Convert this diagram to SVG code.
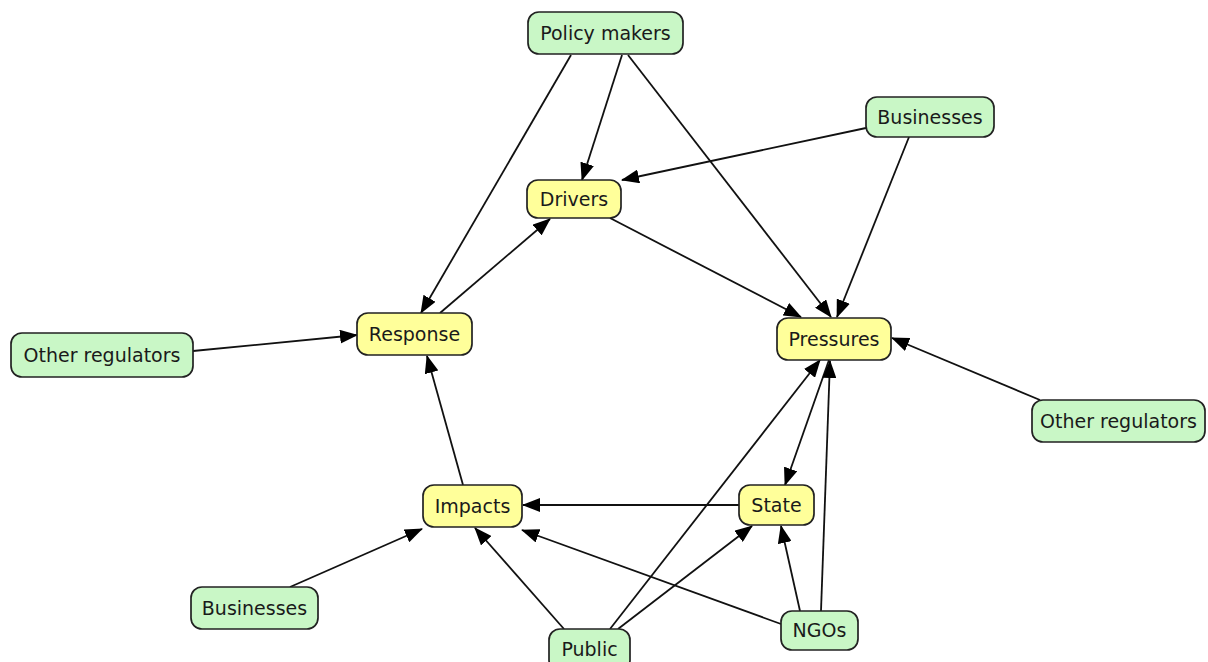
<svg xmlns="http://www.w3.org/2000/svg" width="1208" height="662" viewBox="0 0 1208 662">
  <style>
    .bg { fill: #ffffff; }
    .actor rect { fill: #c9f7c6; stroke: #222; stroke-width: 1.7; }
    .dpsir rect { fill: #ffff9a; stroke: #222; stroke-width: 1.7; }
    text { font-family: "DejaVu Sans", Verdana, sans-serif; font-size: 19px; fill: #1a1a1a; text-anchor: middle; }
    .edges line { stroke: #111; stroke-width: 1.8; marker-end: url(#arrow); }
  </style>
  <defs>
    <marker id="arrow" markerUnits="userSpaceOnUse" markerWidth="18" markerHeight="14" viewBox="0 0 18 14" refX="17" refY="7" orient="auto">
      <path d="M0,0 L18,7 L0,14 Z" fill="#000"/>
    </marker>
  </defs>
  <rect class="bg" x="0" y="0" width="1208" height="662"/>

  <!-- connectors -->
  <g id="connectors" class="edges">
    <line x1="622" y1="55" x2="582" y2="180"/>
    <line x1="571" y1="55" x2="421" y2="313"/>
    <line x1="628" y1="55" x2="831" y2="317"/>
    <line x1="866" y1="128" x2="622" y2="180"/>
    <line x1="909" y1="137" x2="837" y2="317"/>
    <line x1="610" y1="218" x2="801" y2="317"/>
    <line x1="440" y1="313" x2="550" y2="219"/>
    <line x1="193" y1="351" x2="357" y2="335"/>
    <line x1="1040" y1="400" x2="892" y2="338"/>
    <line x1="463" y1="485" x2="427" y2="356"/>
    <line x1="739" y1="505" x2="523" y2="505"/>
    <line x1="829" y1="360" x2="785" y2="485"/>
    <line x1="610" y1="629" x2="820" y2="360"/>
    <line x1="618" y1="629" x2="752" y2="526"/>
    <line x1="564" y1="629" x2="475" y2="528"/>
    <line x1="781" y1="624" x2="522" y2="530"/>
    <line x1="800" y1="611" x2="781" y2="526"/>
    <line x1="821" y1="611" x2="830" y2="361"/>
    <line x1="290" y1="587" x2="422" y2="529"/>
  </g>

  <!-- stakeholders -->
  <g id="policy-makers" class="actor">
    <rect x="528" y="12" width="155" height="42" rx="11"/>
    <text x="605.5" y="39.5">Policy makers</text>
  </g>
  <g id="businesses-top" class="actor">
    <rect x="866" y="97" width="128" height="40" rx="11"/>
    <text x="930" y="123.5">Businesses</text>
  </g>
  <g id="other-regulators-left" class="actor">
    <rect x="11" y="333" width="182" height="44" rx="11"/>
    <text x="102" y="361.5">Other regulators</text>
  </g>
  <g id="other-regulators-right" class="actor">
    <rect x="1032" y="400" width="173" height="42" rx="11"/>
    <text x="1118.5" y="427.5">Other regulators</text>
  </g>
  <g id="businesses-bottom" class="actor">
    <rect x="191" y="587" width="127" height="42" rx="11"/>
    <text x="254.5" y="614.5">Businesses</text>
  </g>
  <g id="public" class="actor">
    <rect x="549" y="629" width="81" height="42" rx="11"/>
    <text x="589.5" y="656">Public</text>
  </g>
  <g id="ngos" class="actor">
    <rect x="781" y="611" width="77" height="39" rx="11"/>
    <text x="819.5" y="637">NGOs</text>
  </g>

  <!-- DPSIR elements -->
  <g id="drivers" class="dpsir">
    <rect x="527" y="180" width="94" height="38" rx="11"/>
    <text x="574" y="205.5">Drivers</text>
  </g>
  <g id="response" class="dpsir">
    <rect x="357" y="313" width="115" height="42" rx="11"/>
    <text x="414.5" y="340.5">Response</text>
  </g>
  <g id="pressures" class="dpsir">
    <rect x="777" y="318" width="114" height="42" rx="11"/>
    <text x="834" y="345.5">Pressures</text>
  </g>
  <g id="impacts" class="dpsir">
    <rect x="423" y="485" width="99" height="42" rx="11"/>
    <text x="472.5" y="512.5">Impacts</text>
  </g>
  <g id="state" class="dpsir">
    <rect x="739" y="485" width="75" height="40" rx="11"/>
    <text x="776.5" y="511.5">State</text>
  </g>
</svg>
